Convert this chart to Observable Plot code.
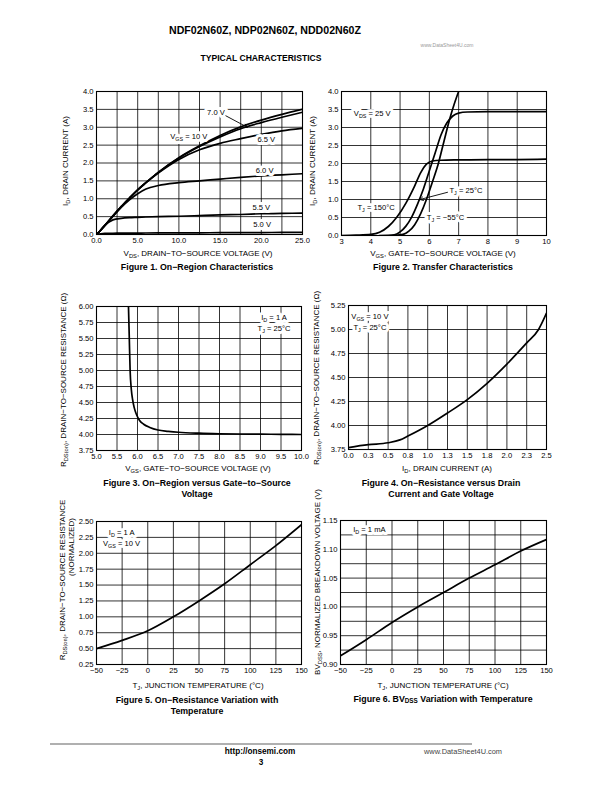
<!DOCTYPE html>
<html><head><meta charset="utf-8">
<script src="https://cdn.jsdelivr.net/npm/d3@7"></script>
<script src="https://cdn.jsdelivr.net/npm/@observablehq/plot@0.6"></script>
<style>
html,body{margin:0;padding:0;background:#fff}
body{width:612px;height:792px;position:relative;overflow:hidden;font-family:"Liberation Sans",Arial,Helvetica,sans-serif;color:#000}
.t{position:absolute;white-space:nowrap;line-height:1}
.c{transform:translate(-50%,-50%)}
.r{transform:translate(-50%,-50%) rotate(-90deg)}
sub{font-size:72%;vertical-align:-0.3em;line-height:0}
.ax{font-size:8px}
.cap{font-size:8.8px;font-weight:bold}
.chart{position:absolute}
.chart svg{overflow:visible}
</style></head><body>
<script>
// ---------- Figure 1: On-Region Characteristics ----------
const fig1Vds     = [0,0.5,1,2,3,4,5,6,7.5,10,12.5,15,17.5,20,22.5,25];
const fig1Id10V   = [0,0.12,0.25,0.52,0.78,1.02,1.25,1.45,1.74,2.15,2.48,2.77,3.01,3.2,3.36,3.5];
const fig1Id7V    = [0,0.12,0.25,0.52,0.78,1.02,1.25,1.45,1.74,2.14,2.46,2.73,2.96,3.13,3.28,3.42];
const fig1Id65V   = [0,0.12,0.25,0.52,0.78,1.02,1.25,1.45,1.72,2.1,2.37,2.55,2.68,2.8,2.9,2.97];
const fig1Id6V    = [0,0.12,0.25,0.51,0.76,0.97,1.14,1.27,1.37,1.45,1.5,1.55,1.6,1.64,1.67,1.7];
const fig1Id55V   = [0,0.12,0.25,0.41,0.45,0.47,0.48,0.49,0.5,0.51,0.53,0.55,0.56,0.58,0.59,0.6];
const fig1Id5V    = [0,0.02,0.03,0.035,0.037,0.04,0.04,0.042,0.044,0.045,0.048,0.05,0.053,0.055,0.058,0.06];
const fig1XTicks  = [0,5,10,15,20,25];
const fig1XTickLabels = ["0.0","5.0","10.0","15.0","20.0","25.0"];
const fig1XGrid   = [0,2.5,5,7.5,10,12.5,15,17.5,20,22.5,25];
const fig1YTicks  = [0,0.5,1,1.5,2,2.5,3,3.5,4];
const fig1YTickLabels = ["0.0","0.5","1.0","1.5","2.0","2.5","3.0","3.5","4.0"];
const fig1Notes   = [
  {x:14.5, y:3.41, t:"7.0 V"},
  {x:11.2, y:2.74, t:"V_{GS} = 10 V"},
  {x:20.6, y:2.66, t:"6.5 V"},
  {x:20.4, y:1.8,  t:"6.0 V"},
  {x:20.0, y:0.75, t:"5.5 V"},
  {x:20.1, y:0.27, t:"5.0 V"}
];
const fig1Arrow   = [{x1:15.7, y1:3.32, x2:18.3, y2:3.0}];

// ---------- Figure 2: Transfer Characteristics ----------
const fig2Vgs150 = [3.0,3.5,4.0,4.3,4.6,4.9,5.2,5.5,5.7,5.9,6.1,6.4,7.0,8.0,9.0,10.0];
const fig2Id150  = [0.0,0.01,0.03,0.09,0.25,0.52,0.9,1.38,1.74,1.98,2.07,2.09,2.1,2.11,2.11,2.12];
const fig2Vgs25  = [4.3,4.8,5.0,5.2,5.4,5.6,5.8,6.0,6.2,6.4,6.6,6.8,7.0,7.3,8.0,9.0,10.0];
const fig2Id25   = [0,0.02,0.1,0.26,0.52,0.88,1.3,1.8,2.3,2.8,3.13,3.32,3.4,3.43,3.44,3.44,3.44];
const fig2Vgs55  = [4.8,5.1,5.3,5.5,5.7,5.9,6.1,6.3,6.5,6.7,6.85,7.0];
const fig2Id55   = [0,0.03,0.12,0.3,0.6,1.0,1.48,1.98,2.62,3.25,3.65,4.0];
const fig2XTicks = [3,4,5,6,7,8,9,10];
const fig2XTickLabels = ["3","4","5","6","7","8","9","10"];
const fig2YTicks = [0,0.5,1,1.5,2,2.5,3,3.5,4];
const fig2YTickLabels = ["0.0","0.5","1.0","1.5","2.0","2.5","3.0","3.5","4.0"];
const fig2Notes  = [
  {x:4.05, y:3.38, t:"V_{DS} = 25 V"},
  {x:4.18, y:0.77, t:"T_{J} = 150°C"},
  {x:7.25, y:1.24, t:"T_{J} = 25°C"},
  {x:6.55, y:0.5,  t:"T_{J} = −55°C"}
];
const fig2Arrow  = [{x1:6.62, y1:1.2, x2:5.68, y2:1.0}];

// ---------- Figure 3: On-Region versus Gate-to-Source Voltage ----------
const fig3Vgs = [5.78,5.8,5.82,5.85,5.88,5.92,5.97,6.05,6.15,6.3,6.5,6.75,7.0,7.5,8.0,8.5,9.0,9.5,10.0];
const fig3Rds = [6.0,5.5,5.0,4.7,4.55,4.42,4.32,4.22,4.16,4.11,4.07,4.05,4.035,4.02,4.012,4.008,4.005,4.003,4.0];
const fig3XTicks = [5,5.5,6,6.5,7,7.5,8,8.5,9,9.5,10];
const fig3XTickLabels = ["5.0","5.5","6.0","6.5","7.0","7.5","8.0","8.5","9.0","9.5","10.0"];
const fig3YTicks = [3.75,4,4.25,4.5,4.75,5,5.25,5.5,5.75,6];
const fig3YTickLabels = ["3.75","4.00","4.25","4.50","4.75","5.00","5.25","5.50","5.75","6.00"];
const fig3Notes = [
  {x:9.33, y:5.83, t:"I_{D} = 1 A"},
  {x:9.33, y:5.66, t:"T_{J} = 25°C"}
];

// ---------- Figure 4: On-Resistance versus Drain Current ----------
const fig4Id  = [0,0.25,0.5,0.65,0.75,1.0,1.25,1.5,1.75,2.0,2.25,2.4,2.5];
const fig4Rds = [3.77,3.8,3.82,3.85,3.89,4.0,4.13,4.27,4.44,4.64,4.86,5.0,5.17];
const fig4XTicks = [0,0.25,0.5,0.75,1,1.25,1.5,1.75,2,2.25,2.5];
const fig4XTickLabels = ["0.0","0.3","0.5","0.8","1.0","1.3","1.5","1.8","2.0","2.3","2.5"];
const fig4YTicks = [3.75,4,4.25,4.5,4.75,5,5.25];
const fig4YTickLabels = ["3.75","4.00","4.25","4.50","4.75","5.00","5.25"];
const fig4Notes = [
  {x:0.27, y:5.13, t:"V_{GS} = 10 V"},
  {x:0.27, y:5.02, t:"T_{J} = 25°C"}
];

// ---------- Figure 5: On-Resistance Variation with Temperature ----------
const fig5Tj  = [-50,-25,0,25,50,75,100,125,150];
const fig5Rds = [0.5,0.63,0.78,1.0,1.25,1.52,1.82,2.12,2.45];
const fig5XTicks = [-50,-25,0,25,50,75,100,125,150];
const fig5XTickLabels = ["−50","−25","0","25","50","75","100","125","150"];
const fig5YTicks = [0.25,0.5,0.75,1,1.25,1.5,1.75,2,2.25,2.5];
const fig5YTickLabels = ["0.25","0.50","0.75","1.00","1.25","1.50","1.75","2.00","2.25","2.50"];
const fig5Notes = [
  {x:-25.5, y:2.33, t:"I_{D} = 1 A"},
  {x:-25.5, y:2.16, t:"V_{GS} = 10 V"}
];

// ---------- Figure 6: BVDSS Variation with Temperature ----------
const fig6Tj  = [-50,-25,0,25,50,75,100,125,150];
const fig6Bv  = [0.915,0.943,0.973,1.0,1.025,1.05,1.073,1.097,1.117];
const fig6XTicks = [-50,-25,0,25,50,75,100,125,150];
const fig6XTickLabels = ["−50","−25","0","25","50","75","100","125","150"];
const fig6YTicks = [0.9,0.95,1.0,1.05,1.1,1.15];
const fig6YTickLabels = ["0.90","0.95","1.00","1.05","1.10","1.15"];
const fig6YGrid  = [0.9,0.925,0.95,0.975,1.0,1.025,1.05,1.075,1.1,1.125,1.15];
const fig6Notes  = [{x:-22, y:1.134, t:"I_{D} = 1 mA"}];

// ---------- rendering ----------
const FONT = '"Liberation Sans", Arial, Helvetica, sans-serif';
const NS = "http://www.w3.org/2000/svg";

function subify(svg) {
  svg.querySelectorAll("text").forEach(t => {
    const s = t.textContent;
    if (!s.includes("_{")) return;
    t.textContent = "";
    let shifted = false;
    for (const part of s.split(/(_\{[^}]*\})/)) {
      if (!part) continue;
      const ts = document.createElementNS(NS, "tspan");
      if (part.startsWith("_{")) {
        ts.textContent = part.slice(2, -1);
        ts.setAttribute("dy", "2");
        ts.setAttribute("font-size", "5.4");
        shifted = true;
      } else {
        ts.textContent = part;
        if (shifted) { ts.setAttribute("dy", "-2"); shifted = false; }
      }
      t.appendChild(ts);
    }
  });
}

const curve = (xs, ys) => Plot.line(xs.map((x, i) => ({x, y: ys[i]})),
  {x: "x", y: "y", stroke: "#000", strokeWidth: 1.7, curve: "monotone-x", clip: true});
// white knock-out behind the annotation text, then the text itself
const notes = arr => [
  Plot.text(arr, {x: "x", y: "y", text: "t", fontSize: 7.6, fill: "#fff",
    stroke: "#fff", strokeWidth: 6, strokeLinejoin: "round", textAnchor: "middle"}),
  Plot.text(arr, {x: "x", y: "y", text: "t", fontSize: 7.6, fill: "#000", textAnchor: "middle"})
];
const arrow = arr => Plot.arrow(arr, {x1: "x1", y1: "y1", x2: "x2", y2: "y2",
  stroke: "#000", strokeWidth: 0.9, headLength: 6});

function chart(cfg) {
  const ml = 34, mr = 12, mt = 6, mb = 16;
  const xMap = new Map(cfg.xTicks.map((v, i) => [v, cfg.xTickLabels[i]]));
  const yMap = new Map(cfg.yTicks.map((v, i) => [v, cfg.yTickLabels[i]]));
  const svg = Plot.plot({
    width: cfg.right - cfg.left + ml + mr,
    height: cfg.bottom - cfg.top + mt + mb,
    marginLeft: ml, marginRight: mr, marginTop: mt, marginBottom: mb,
    style: {fontFamily: FONT, fontSize: "7.6px", color: "#000", background: "transparent", overflow: "visible"},
    x: {domain: cfg.xDomain, ticks: cfg.xTicks, tickFormat: d => xMap.get(d), tickSize: 0, tickPadding: 3, label: null},
    y: {domain: cfg.yDomain, ticks: cfg.yTicks, tickFormat: d => yMap.get(d), tickSize: 0, tickPadding: 3, label: null},
    marks: [
      Plot.ruleX(cfg.xGrid || cfg.xTicks, {stroke: "#000", strokeWidth: 0.8}),
      Plot.ruleY(cfg.yGrid || cfg.yTicks, {stroke: "#000", strokeWidth: 0.8}),
      ...cfg.marks.flat(),
      Plot.frame({stroke: "#000", strokeWidth: 1.1})
    ]
  });
  subify(svg);
  const div = document.createElement("div");
  div.className = "chart";
  div.style.left = (cfg.left - ml) + "px";
  div.style.top = (cfg.top - mt) + "px";
  div.appendChild(svg);
  document.body.appendChild(div);
}

chart({left: 96, right: 302, top: 91, bottom: 234, xDomain: [0, 25], yDomain: [0, 4],
  xTicks: fig1XTicks, xTickLabels: fig1XTickLabels, xGrid: fig1XGrid,
  yTicks: fig1YTicks, yTickLabels: fig1YTickLabels,
  marks: [curve(fig1Vds, fig1Id5V), curve(fig1Vds, fig1Id55V), curve(fig1Vds, fig1Id6V),
          curve(fig1Vds, fig1Id65V), curve(fig1Vds, fig1Id7V), curve(fig1Vds, fig1Id10V),
          notes(fig1Notes), arrow(fig1Arrow)]});

chart({left: 341, right: 546, top: 91, bottom: 235, xDomain: [3, 10], yDomain: [0, 4],
  xTicks: fig2XTicks, xTickLabels: fig2XTickLabels,
  yTicks: fig2YTicks, yTickLabels: fig2YTickLabels,
  marks: [curve(fig2Vgs150, fig2Id150), curve(fig2Vgs25, fig2Id25), curve(fig2Vgs55, fig2Id55),
          notes(fig2Notes), arrow(fig2Arrow)]});

chart({left: 96, right: 301, top: 306, bottom: 450, xDomain: [5, 10], yDomain: [3.75, 6],
  xTicks: fig3XTicks, xTickLabels: fig3XTickLabels,
  yTicks: fig3YTicks, yTickLabels: fig3YTickLabels,
  marks: [curve(fig3Vgs, fig3Rds), notes(fig3Notes)]});

chart({left: 348, right: 546, top: 305, bottom: 449, xDomain: [0, 2.5], yDomain: [3.75, 5.25],
  xTicks: fig4XTicks, xTickLabels: fig4XTickLabels,
  yTicks: fig4YTicks, yTickLabels: fig4YTickLabels,
  marks: [curve(fig4Id, fig4Rds), notes(fig4Notes)]});

chart({left: 96, right: 301, top: 521, bottom: 664, xDomain: [-50, 150], yDomain: [0.25, 2.5],
  xTicks: fig5XTicks, xTickLabels: fig5XTickLabels,
  yTicks: fig5YTicks, yTickLabels: fig5YTickLabels,
  marks: [curve(fig5Tj, fig5Rds), notes(fig5Notes)]});

chart({left: 340, right: 546, top: 520, bottom: 664, xDomain: [-50, 150], yDomain: [0.9, 1.15],
  xTicks: fig6XTicks, xTickLabels: fig6XTickLabels,
  yTicks: fig6YTicks, yTickLabels: fig6YTickLabels, yGrid: fig6YGrid,
  marks: [curve(fig6Tj, fig6Bv), notes(fig6Notes)]});

// ---------- page text ----------
const texts = [
  ['t c', 'left:265px;top:30px;font-size:10.6px;font-weight:bold', 'NDF02N60Z, NDP02N60Z, NDD02N60Z'],
  ['t c', 'left:447px;top:45px;font-size:5px;color:#999', 'www.DataSheet4U.com'],
  ['t c', 'left:261px;top:58px;font-size:8.6px;font-weight:bold', 'TYPICAL CHARACTERISTICS'],

  ['t r ax', 'left:66px;top:161px', 'I<sub>D</sub>, DRAIN CURRENT (A)'],
  ['t c ax', 'left:198px;top:254px', 'V<sub>DS</sub>, DRAIN−TO−SOURCE VOLTAGE (V)'],
  ['t c cap', 'left:197px;top:267px', 'Figure 1. On−Region Characteristics'],

  ['t r ax', 'left:313px;top:161px', 'I<sub>D</sub>, DRAIN CURRENT (A)'],
  ['t c ax', 'left:443px;top:254px', 'V<sub>GS</sub>, GATE−TO−SOURCE VOLTAGE (V)'],
  ['t c cap', 'left:443px;top:267px', 'Figure 2. Transfer Characteristics'],

  ['t r ax', 'left:64px;top:380px', 'R<sub>DS(on)</sub>, DRAIN−TO−SOURCE RESISTANCE (Ω)'],
  ['t c ax', 'left:198px;top:469px', 'V<sub>GS</sub>, GATE−TO−SOURCE VOLTAGE (V)'],
  ['t c cap', 'left:197px;top:483px', 'Figure 3. On−Region versus Gate−to−Source'],
  ['t c cap', 'left:197px;top:494px', 'Voltage'],

  ['t r ax', 'left:317px;top:378px', 'R<sub>DS(on)</sub>, DRAIN−TO−SOURCE RESISTANCE (Ω)'],
  ['t c ax', 'left:447px;top:469px', 'I<sub>D</sub>, DRAIN CURRENT (A)'],
  ['t c cap', 'left:441px;top:483px', 'Figure 4. On−Resistance versus Drain'],
  ['t c cap', 'left:441px;top:494px', 'Current and Gate Voltage'],

  ['t r ax', 'left:63px;top:580px', 'R<sub>DS(on)</sub>, DRAIN−TO−SOURCE RESISTANCE'],
  ['t r ax', 'left:72px;top:547px', '(NORMALIZED)'],
  ['t c ax', 'left:198px;top:686px', 'T<sub>J</sub>, JUNCTION TEMPERATURE (°C)'],
  ['t c cap', 'left:197px;top:700px', 'Figure 5. On−Resistance Variation with'],
  ['t c cap', 'left:197px;top:711px', 'Temperature'],

  ['t r ax', 'left:318px;top:582px', 'BV<sub>DSS</sub>, NORMALIZED BREAKDOWN VOLTAGE (V)'],
  ['t c ax', 'left:443px;top:686px', 'T<sub>J</sub>, JUNCTION TEMPERATURE (°C)'],
  ['t c cap', 'left:443px;top:699px', 'Figure 6. BV<sub>DSS</sub> Variation with Temperature'],

  ['t c', 'left:260px;top:752px;font-size:8.2px;font-weight:bold', 'http://onsemi.com'],
  ['t c', 'left:261px;top:763px;font-size:8.2px;font-weight:bold', '3'],
  ['t c', 'left:463px;top:752px;font-size:7.4px;color:#444', 'www.DataSheet4U.com']
];
const rule = document.createElement("div");
rule.style.cssText = "position:absolute;left:50px;top:743px;width:422px;height:1.5px;background:#b0b0b0";
document.body.appendChild(rule);
for (const [cls, style, html] of texts) {
  const d = document.createElement("div");
  d.className = cls;
  d.style.cssText = style;
  d.innerHTML = html;
  document.body.appendChild(d);
}
</script>
</body></html>
